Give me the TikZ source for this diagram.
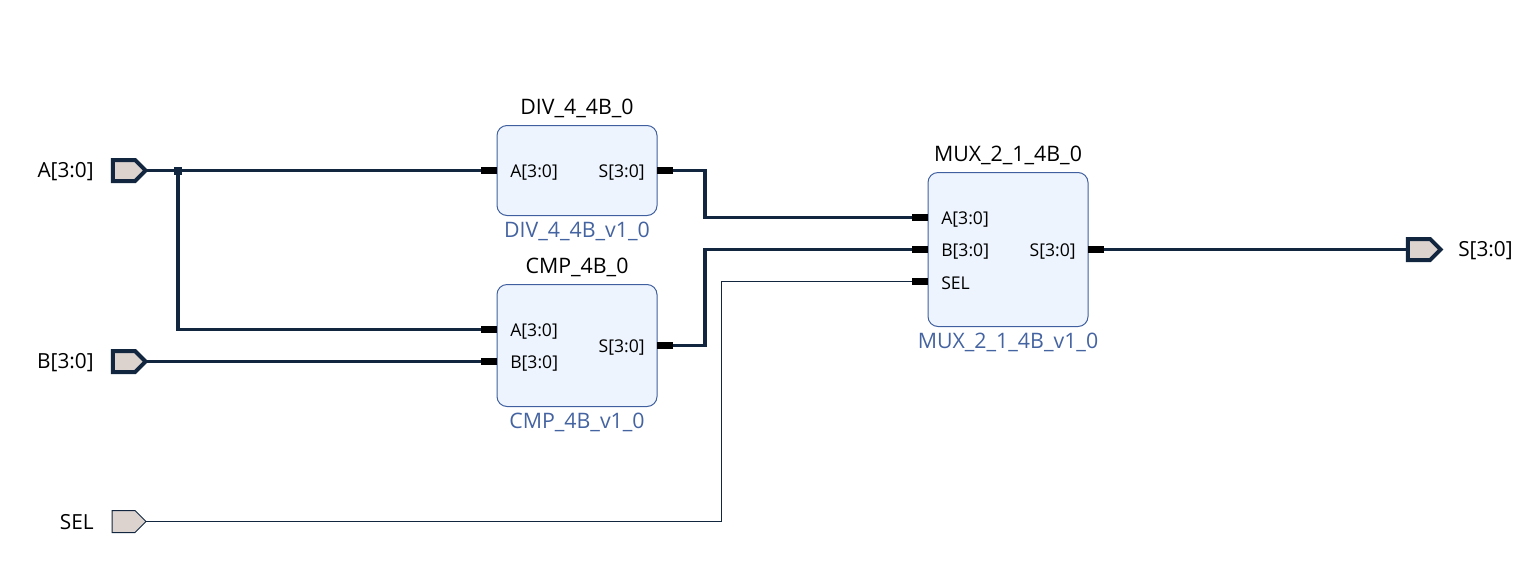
\documentclass[tikz,border=0pt]{standalone}
\usepackage{fontspec}
\setmainfont{Open Sans}
\usetikzlibrary{shapes.symbols,positioning}
\definecolor{wirecol}{HTML}{12263F}
\definecolor{portcol}{HTML}{DCD3CF}
\definecolor{blockcol}{HTML}{EDF4FD}
\definecolor{edgecol}{HTML}{3F5F9F}
\definecolor{typecol}{HTML}{4463A1}

\begin{document}
\begin{tikzpicture}[x=0.75pt, y=-0.75pt,
	block/.style={draw=edgecol, line width=0.75pt, fill=blockcol, rectangle, rounded corners=7.5pt, minimum width=120pt, inner sep=0pt, outer sep=0pt},
	portbus/.style={draw=wirecol, line width=3pt, fill=portcol, signal, signal to=east, signal pointer angle=90, minimum width=24.5pt, minimum height=15.75pt, inner sep=0pt, outer sep=0pt},
	portbit/.style={portbus, line width=0.75pt, minimum width=25.5pt, minimum height=16.5pt},
	portlabel/.style={font=\fontsize{15.6}{18}\selectfont, inner sep=0pt},
	title/.style={font=\fontsize{16}{18}\selectfont, inner sep=0pt},
	typename/.style={font=\fontsize{16}{18}\selectfont, text=typecol, inner sep=0pt},
	pinlabel/.style={font=\fontsize{13.2}{15}\selectfont, inner sep=0pt},
	bus/.style={draw=wirecol, line width=2.8pt},
	bit/.style={draw=wirecol, line width=0.75pt},
	pin/.style={draw=black, line width=5pt}]
	\useasboundingbox (0,-0.5) rectangle (1540,578.5);

	\node[portbus] (portA) at (124,170) {};
	\node[portbus] (portB) at (124,361) {};
	\node[portbit] (portSEL) at (123.5,521) {};
	\node[portbus] (portS) at (1419,249) {};
	\node[portlabel, anchor=east] (labA) at (94,171) {A[3:0]};
	\node[portlabel, anchor=east] (labB) at (94,362) {B[3:0]};
	\node[portlabel, anchor=east] (labSEL) at (94,522) {SEL};
	\node[portlabel, anchor=west] (labS) at (1458,250) {S[3:0]};

	\node[block, minimum height=67.5pt] (div) at (577,170) {};
	\node[block, minimum height=91.5pt] (cmp) at (577,345) {};
	\node[block, minimum height=115.5pt] (mux) at (1008,249) {};

	\node[title, above=5.5pt of div] (divname) {DIV\_4\_4B\_0};
	\node[title, above=5.5pt of cmp] (cmpname) {CMP\_4B\_0};
	\node[title, above=5.5pt of mux] (muxname) {MUX\_2\_1\_4B\_0};
	\node[typename, below=4.5pt of div] (divtype) {DIV\_4\_4B\_v1\_0};
	\node[typename, below=4.5pt of cmp] (cmptype) {CMP\_4B\_v1\_0};
	\node[typename, below=4.5pt of mux] (muxtype) {MUX\_2\_1\_4B\_v1\_0};

	\node[pinlabel, anchor=west] (divA) at (510,172) {A[3:0]};
	\node[pinlabel, anchor=east] (divS) at (645,172) {S[3:0]};
	\node[pinlabel, anchor=west] (cmpA) at (510,331) {A[3:0]};
	\node[pinlabel, anchor=west] (cmpB) at (510,363) {B[3:0]};
	\node[pinlabel, anchor=east] (cmpS) at (645,347) {S[3:0]};
	\node[pinlabel, anchor=west] (muxA) at (941,219) {A[3:0]};
	\node[pinlabel, anchor=west] (muxB) at (941,251) {B[3:0]};
	\node[pinlabel, anchor=west] (muxSEL) at (941,283) {SEL};
	\node[pinlabel, anchor=east] (muxS) at (1076,251) {S[3:0]};

	\coordinate (pinDivA) at (481,170);
	\coordinate (pinDivS) at (673,170);
	\coordinate (pinCmpA) at (481,329);
	\coordinate (pinCmpB) at (481,361);
	\coordinate (pinCmpS) at (673,345);
	\coordinate (pinMuxA) at (912,217);
	\coordinate (pinMuxB) at (912,249);
	\coordinate (pinMuxSEL) at (912,281);
	\coordinate (pinMuxS) at (1104,249);

	% wires
	\node[fill=wirecol, minimum size=6pt, inner sep=0pt] (tap) at (178,170) {};
	\draw[bus] (portA.east) -- (pinDivA);
	\draw[bus] (tap.center) |- (pinCmpA);
	\draw[bus] (portB.east) -- (pinCmpB);
	\draw[bus] (pinDivS) -- (705,170) |- (pinMuxA);
	\draw[bus] (pinCmpS) -- (705,345) |- (pinMuxB);
	\draw[bit] (portSEL.east) -- (721,521) |- (pinMuxSEL);
	\draw[bus] (pinMuxS) -- (portS.west);

	% pins
	\draw[pin] (pinDivA) -- (div.west |- pinDivA);
	\draw[pin] (pinDivS) -- (div.east |- pinDivS);
	\draw[pin] (pinCmpA) -- (cmp.west |- pinCmpA);
	\draw[pin] (pinCmpB) -- (cmp.west |- pinCmpB);
	\draw[pin] (pinCmpS) -- (cmp.east |- pinCmpS);
	\draw[pin] (pinMuxA) -- (mux.west |- pinMuxA);
	\draw[pin] (pinMuxB) -- (mux.west |- pinMuxB);
	\draw[pin] (pinMuxSEL) -- (mux.west |- pinMuxSEL);
	\draw[pin] (pinMuxS) -- (mux.east |- pinMuxS);
\end{tikzpicture}
\end{document}
